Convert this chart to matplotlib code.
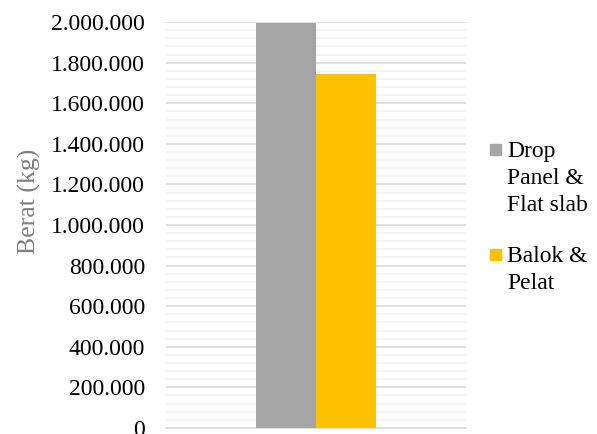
import matplotlib.pyplot as plt
from matplotlib.ticker import MultipleLocator, FuncFormatter
from matplotlib.patches import Rectangle

plt.rcParams['font.family'] = ['Liberation Serif', 'DejaVu Serif']

# data
series = ["Drop\nPanel &\nFlat slab", "Balok &\nPelat"]
berat = [1996000, 1743000]
warna = ["#a5a5a5", "#ffc000"]

fig = plt.figure(figsize=(5.97, 4.34), dpi=100)
ax = fig.add_axes([0.278, 0.014, 0.503, 0.935])

w = 0.2
offs = [-w / 2, w / 2]
for i in range(len(series)):
    ax.bar(offs[i], berat[i], width=w, color=warna[i], zorder=3)

ax.set_xlim(-0.5, 0.5)
ax.set_ylim(0, 2000000)
ax.yaxis.set_major_locator(MultipleLocator(200000))
ax.yaxis.set_minor_locator(MultipleLocator(40000))
ax.yaxis.set_major_formatter(FuncFormatter(lambda v, p: f"{int(v):,}".replace(",", ".")))
ax.grid(axis='y', which='major', color='#d9d9d9', linewidth=1.2, zorder=0)
ax.grid(axis='y', which='minor', color='#f2f2f2', linewidth=1.2, zorder=0)
ax.tick_params(axis='y', which='both', length=0, labelsize=17, pad=15, colors='#000000')
ax.set_xticks([])
for s in ['top', 'right', 'left']:
    ax.spines[s].set_visible(False)
ax.spines['bottom'].set_color('#d9d9d9')
ax.spines['bottom'].set_linewidth(1.2)

fig.text(0.05, 0.537, "Berat (kg)", rotation=90, ha='center', va='center',
         fontsize=18.5, color='#7f7f7f')

# legend drawn by hand so the square sits on the first line
leg_y = [1 - 141 / 434, 1 - 246 / 434]
for lab, c, y in zip(series, warna, leg_y):
    fig.add_artist(Rectangle((490 / 597, y - 14 / 434), 11 / 597, 11 / 434,
                             transform=fig.transFigure, color=c))
    fig.text(507 / 597, y, lab, ha='left', va='top', fontsize=17,
             linespacing=1.38)

fig.savefig("out.png", dpi=100)
